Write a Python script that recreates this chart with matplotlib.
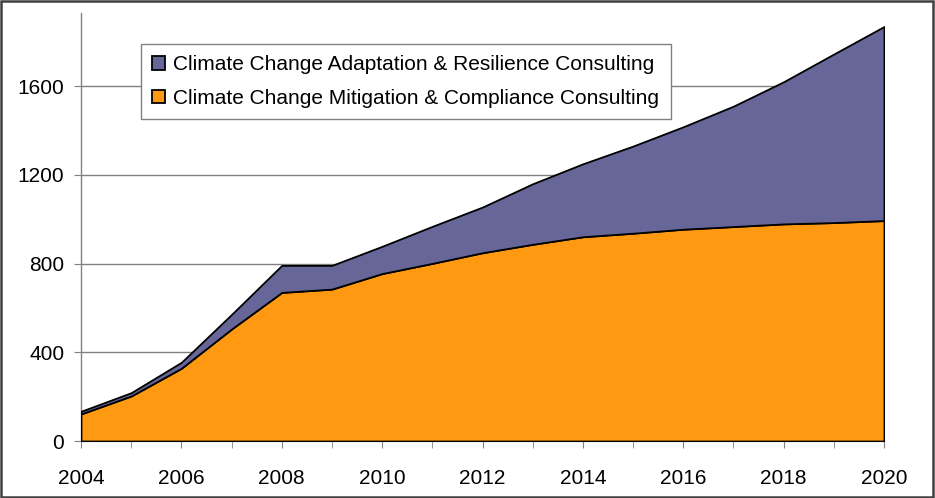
import matplotlib
matplotlib.use("Agg")
import matplotlib.pyplot as plt
from matplotlib.patches import Rectangle

plt.rcParams['font.family'] = ['Liberation Sans', 'DejaVu Sans']

years = list(range(2004, 2021))
mitigation = [122, 203, 328, 505, 670, 685, 755, 801, 849, 887, 921, 937, 955, 967, 979, 985, 994]
total = [134, 218, 355, 571, 792, 792, 878, 968, 1055, 1160, 1250, 1330, 1417, 1510, 1620, 1745, 1869]
adaptation = [t - m for t, m in zip(total, mitigation)]

labels = ["Climate Change Mitigation & Compliance Consulting",
          "Climate Change Adaptation & Resilience Consulting"]
colors = ["#FF9912", "#666699"]

fig = plt.figure(figsize=(9.35, 4.98), dpi=100)
ax = fig.add_axes([81 / 935, 57 / 498, 803 / 935, 428 / 498])

polys = ax.stackplot(years, mitigation, adaptation, labels=labels, colors=colors,
                     edgecolor="black", linewidth=1.3, zorder=3)

ax.set_xlim(2004, 2020)
ax.set_ylim(0, 1930)
ax.set_yticks([0, 400, 800, 1200, 1600])
ax.set_xticks(years, minor=True)
ax.set_xticks(range(2004, 2021, 2))
ax.yaxis.grid(True, color="#808080", linewidth=1.0, zorder=0)
ax.set_axisbelow(True)

for s in ["top", "right"]:
    ax.spines[s].set_visible(False)
ax.spines["left"].set_color("#808080")
ax.spines["bottom"].set_color("#303030")
ax.spines["left"].set_linewidth(1.0)

ax.tick_params(axis="y", length=5, color="#808080", labelsize=15, pad=7)
ax.tick_params(axis="x", which="both", length=5, color="#808080", labelsize=15, pad=15)

handles, labs = ax.get_legend_handles_labels()
leg = ax.legend(handles[::-1], labs[::-1], loc="upper left",
                bbox_to_anchor=(0.0747, 0.9276), borderaxespad=0,
                fontsize=15, fancybox=False, framealpha=1,
                edgecolor="#808080", handlelength=0.6, handleheight=0.6,
                handletextpad=0.4, labelspacing=0.7, borderpad=0.55)
leg.get_frame().set_linewidth(1.0)
leg.set_zorder(5)

fig.patches.append(Rectangle((0.001, 0.002), 0.997, 0.996, transform=fig.transFigure,
                             fill=False, edgecolor="#404040", linewidth=1.8))

fig.savefig("out.png", dpi=100)
